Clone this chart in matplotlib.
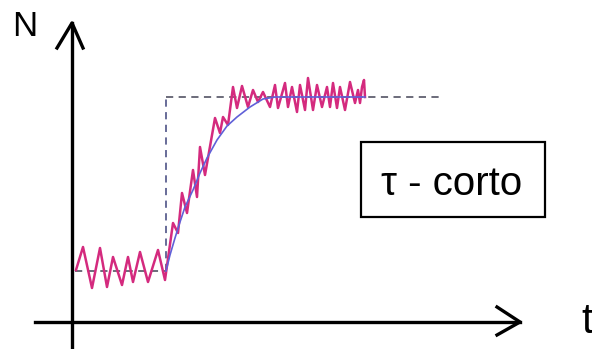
import matplotlib
matplotlib.use('Agg')
import matplotlib.pyplot as plt
from matplotlib.patches import Rectangle

# nivel inicial, nivel final y instante del escalón
N_inicial = 5.1
N_final = 22.5
t_escalon = 9.4
t_fin_ref = 37.1

# señal medida (ruidosa)
t_senal = [0.4, 1.1, 2.0, 2.8, 3.5, 4.1, 5.0, 5.6, 6.1, 6.8, 7.6, 8.6, 9.3,
           10.1, 10.6, 11.0, 11.5, 12.1, 12.5, 12.8, 13.3, 14.3, 14.8, 15.1, 15.6,
           16.1, 16.5, 17.0, 17.6, 18.1, 18.6, 19.1, 19.8, 20.3, 20.6, 21.3, 21.6,
           22.0, 22.5, 22.8, 23.3, 23.6, 24.1, 24.5, 25.0, 25.5, 25.8, 26.1, 26.5,
           26.8, 27.3, 27.8, 28.3, 28.6, 28.8, 29.0, 29.2, 29.3]
N_senal = [5.2, 7.5, 3.4, 7.4, 3.5, 6.5, 3.7, 6.5, 4.0, 7.0, 4.0, 7.2, 4.2,
           9.9, 8.9, 12.9, 10.9, 15.2, 12.5, 17.5, 14.7, 20.4, 18.9, 20.5, 19.7,
           23.5, 21.4, 23.6, 21.5, 23.2, 22.0, 23.0, 21.5, 23.7, 21.4, 23.9, 21.5,
           23.5, 21.0, 23.7, 21.2, 24.4, 21.2, 23.7, 21.5, 23.5, 21.5, 23.9, 21.4,
           23.5, 21.2, 24.0, 21.9, 23.2, 21.9, 23.5, 24.2, 22.5]

# respuesta suave (azul)
t_resp = [9.4, 9.8, 10.3, 10.8, 11.3, 12.1, 12.8, 13.5, 14.5, 15.5, 16.5,
          17.8, 19.1, 20.3, 29.3]
N_resp = [5.1, 6.7, 8.4, 10.0, 11.5, 13.2, 14.9, 16.4, 18.2, 19.6, 20.5,
          21.5, 22.3, 22.5, 22.5]

fig = plt.figure(figsize=(5.92, 3.49), dpi=100)
ax = fig.add_axes([0, 0, 1, 1])
ax.set_xlim(-7.2, 52.0)
ax.set_ylim(-2.7, 32.2)
ax.axis('off')

# ejes dibujados a mano
ax.plot([0, 0], [-2.7, 29.9], color='black', lw=2.4)
ax.plot([-1.5, 0, 1.1], [27.4, 29.9, 27.4], color='black', lw=2.4)
ax.plot([-3.7, 44.8], [0, 0], color='black', lw=2.4)
ax.plot([42.5, 44.8, 42.5], [1.5, 0, -1.3], color='black', lw=2.4)

# referencias discontinuas
ax.plot([0.3, t_escalon], [N_inicial, N_inicial], ls=(0, (4, 3)), color='#606070', lw=1.3)
ax.plot([t_escalon, t_escalon], [N_inicial, N_final], ls=(0, (4, 3)), color='#5c6090', lw=1.3)
ax.plot([t_escalon, t_fin_ref], [N_final, N_final], ls=(0, (4, 3)), color='#606070', lw=1.3)

ax.plot(t_senal, N_senal, color='#d42a7e', lw=1.8, solid_joinstyle='round')
ax.plot(t_resp, N_resp, color='#6060d8', lw=1.2)

ax.text(-4.7, 29.6, 'N', fontsize=25, family='Liberation Sans', ha='center', va='center')
ax.text(50.9, 0.0, 't', fontsize=30, family='Liberation Sans', ha='left', va='center')

ax.add_patch(Rectangle((28.9, 10.5), 18.4, 7.5, fill=False, ec='black', lw=1.6))
ax.text(38.0, 13.8, 'τ - corto', fontsize=29, family='Liberation Sans', ha='center', va='center')

plt.savefig('out.png', dpi=100)
